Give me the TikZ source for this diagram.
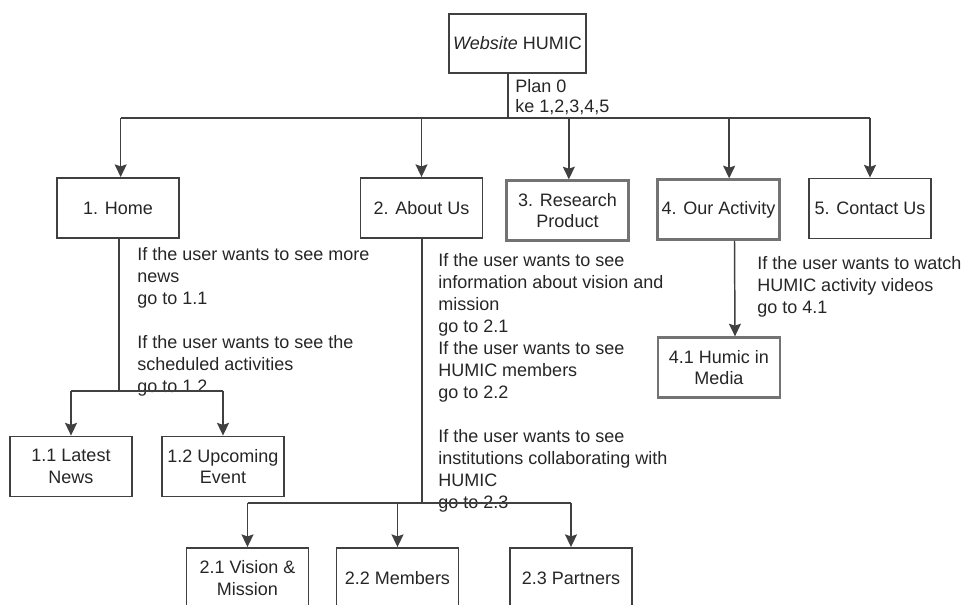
\documentclass[tikz,border=0pt]{standalone}
\usepackage{fontspec}
\setmainfont{Liberation Sans}
\usetikzlibrary{arrows.meta}

\begin{document}
\begin{tikzpicture}
  [x=0.75pt,y=-0.75pt,
   every node/.style={font=\fontsize{13.5}{16}\selectfont,text=black!85},
   menu/.style={draw=black!75,line width=1.4pt,fill=white,minimum width=91.5pt,minimum height=45pt,align=center,inner sep=2pt},
   soft/.style={menu,draw=black!55,line width=1.7pt},
   note/.style={align=left,anchor=north west,inner sep=0pt,font=\fontsize{13.5}{16.5}\selectfont},
   link/.style={draw=black!75,line width=1.1pt},
   arr/.style={link,-{Stealth[length=9.5pt,width=9pt,inset=1.5pt]}}]
  \useasboundingbox (0,0) rectangle (961,605);
  % menu boxes
  \node[menu,minimum width=102.75pt,minimum height=44.25pt] (root) at (517.5,43.5) {\textit{Website} HUMIC};
  \node[menu] (home) at (118,208) {1. Home};
  \node[menu] (about) at (421.5,208) {2. About Us};
  \node[soft] (research) at (567.5,210.5) {3. Research\\Product};
  \node[soft] (activity) at (718.5,209.5) {4. Our Activity};
  \node[menu] (contact) at (870,208.5) {5. Contact Us};
  \node[menu] (latest) at (71,466.5) {1.1 Latest\\News};
  \node[menu] (upcoming) at (223,466.5) {1.2 Upcoming\\Event};
  \node[soft] (media) at (719,367.5) {4.1 Humic in\\Media};
  \node[menu] (vision) at (247.5,578) {2.1 Vision \&\\Mission};
  \node[menu] (members) at (397.5,578) {2.2 Members};
  \node[menu] (partners) at (571,578) {2.3 Partners};
  % plans
  \node[note,font=\fontsize{13.5}{15}\selectfont] (plan0) at (515,79) {Plan 0\\ke 1,2,3,4,5};
  \node[note] (plan1) at (137,247) {If the user wants to see more\\news\\go to 1.1\\[16.5pt]If the user wants to see the\\scheduled activities\\go to 1.2};
  \node[note] (plan2) at (438,253) {If the user wants to see\\information about vision and\\mission\\go to 2.1\\If the user wants to see\\HUMIC members\\go to 2.2\\[16.5pt]If the user wants to see\\institutions collaborating with\\HUMIC\\go to 2.3};
  \node[note] (plan4) at (757,256) {If the user wants to watch\\HUMIC activity videos\\go to 4.1};
  % level 1
  \coordinate (j0) at (508,118);
  \draw[link] (root.south -| j0) -- (j0);
  \draw[link] ([xshift=2pt]home.north |- j0) -- (contact.north |- j0);
  \foreach \n/\s in {home/2,about/0,research/1,activity/8,contact/0}
    \draw[arr] ([xshift=\s pt]\n.north |- j0) -- ([xshift=\s pt]\n.north);
  % level 2
  \coordinate (j1) at (119,391);
  \draw[link] (home.south -| j1) -- (j1);
  \draw[link] (latest.north |- j1) -- (upcoming.north |- j1);
  \foreach \n in {latest,upcoming}
    \draw[arr] (\n.north |- j1) -- (\n.north);
  \coordinate (j2) at (422,503);
  \draw[link] (about.south -| j2) -- (j2);
  \draw[link] (vision.north |- j2) -- (partners.north |- j2);
  \foreach \n in {vision,members,partners}
    \draw[arr] (\n.north |- j2) -- (\n.north);
  \draw[arr] ([xshift=12pt]activity.south) -- ([xshift=12pt]media.north);
\end{tikzpicture}
\end{document}
